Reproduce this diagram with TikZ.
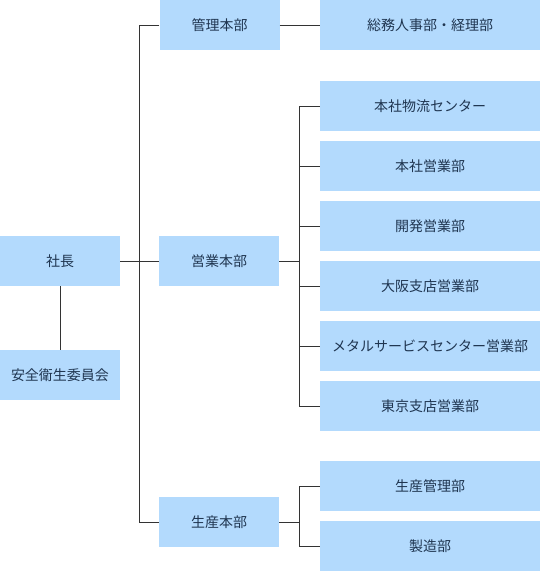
\documentclass[tikz,border=0pt]{standalone}
\usepackage{fontspec}
\newfontfamily\jp{Noto Sans CJK JP}
\definecolor{boxblue}{HTML}{B3DAFD}
\definecolor{txt}{HTML}{1F3550}
\definecolor{ln}{HTML}{333333}
\begin{document}
\begin{tikzpicture}[x=1pt,y=-1pt,
  box/.style={fill=boxblue,draw=none,inner sep=0pt,font=\jp\fontsize{14}{16}\selectfont,text=txt},
  small/.style={box,minimum width=120pt,minimum height=50pt},
  wide/.style={box,minimum width=220pt,minimum height=50pt},
  conn/.style={draw=ln,line width=1pt}]
\useasboundingbox (0,0) rectangle (540,571);
% left
\node[small] (pres) at (60,261) {社長};
\node[small] (safe) at (60,375) {安全衛生委員会};
% divisions
\node[small] (kanri) at (219.5,25) {管理本部};
\node[small] (eigyo) at (219,261) {営業本部};
\node[small] (seisan) at (219,522) {生産本部};
% departments
\node[wide] (somu) at (430,25) {総務人事部・経理部};
\node[wide] (d1) at (430,106) {本社物流センター};
\node[wide] (d2) at (430,166) {本社営業部};
\node[wide] (d3) at (430,226) {開発営業部};
\node[wide] (d4) at (430,286) {大阪支店営業部};
\node[wide] (d5) at (430,346) {メタルサービスセンター営業部};
\node[wide] (d6) at (430,406) {東京支店営業部};
\node[wide] (p1) at (430,486) {生産管理部};
\node[wide] (p2) at (430,546) {製造部};
% trunk coordinates
\coordinate (t1) at (139.5,25);
\coordinate (t2) at (139.5,261);
\coordinate (t3) at (139.5,522);
\draw[conn] (pres.south) -- (safe.north);
\draw[conn] (pres.east) -- (eigyo.west);
\draw[conn] (kanri.west) -- (t1) -- (t3) -- (seisan.west);
\draw[conn] (kanri.east) -- (somu.west);
% eigyo sub-trunk
\coordinate (e1) at (299.5,106);
\coordinate (e6) at (299.5,406);
\draw[conn] (d1.west) -- (e1) -- (e6) -- (d6.west);
\draw[conn] (eigyo.east) -- (eigyo.east -| e1);
\foreach \n in {d2,d3,d4,d5} \draw[conn] (\n.west) -- (\n.west -| e1);
% seisan sub-trunk
\coordinate (s1) at (299.5,486);
\coordinate (s2) at (299.5,546);
\draw[conn] (p1.west) -- (s1) -- (s2) -- (p2.west);
\draw[conn] (seisan.east) -- (seisan.east -| s1);
\end{tikzpicture}
\end{document}
